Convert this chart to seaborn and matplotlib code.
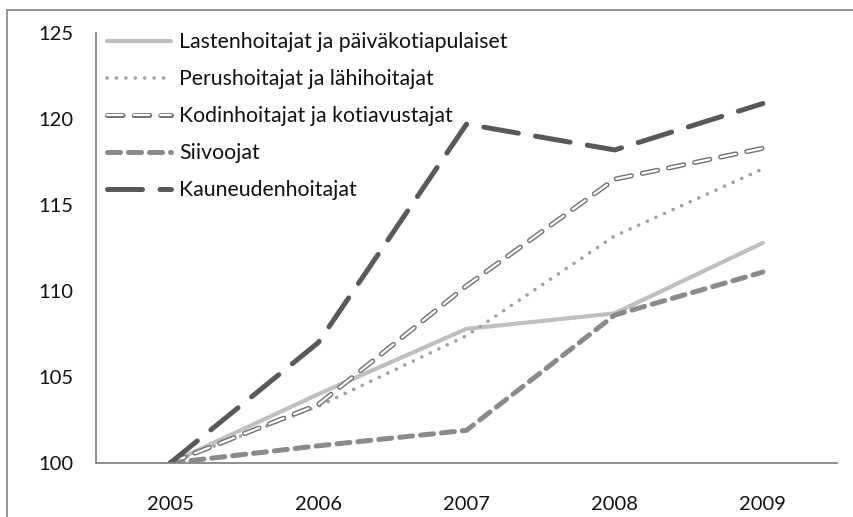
import pandas as pd
import numpy as np
import seaborn as sns
import matplotlib.pyplot as plt
import matplotlib.patheffects as pe
from matplotlib.lines import Line2D

# data
years = ["2005", "2006", "2007", "2008", "2009"]
lastenhoitajat = [100, 104.0, 107.8, 108.7, 112.8]
perushoitajat = [100, 103.3, 107.4, 113.2, 117.1]
kodinhoitajat = [100, 103.4, 110.3, 116.5, 118.3]
siivoojat = [100, 101.0, 101.9, 108.6, 111.1]
kauneudenhoitajat = [100, 107.0, 119.7, 118.2, 120.9]

names = ["Lastenhoitajat ja päiväkotiapulaiset",
         "Perushoitajat ja lähihoitajat",
         "Kodinhoitajat ja kotiavustajat",
         "Siivoojat",
         "Kauneudenhoitajat"]
series = [lastenhoitajat, perushoitajat, kodinhoitajat, siivoojat, kauneudenhoitajat]

sns.set_style("white")
plt.rcParams['font.family'] = ['Lato', 'DejaVu Sans']

fig = plt.figure(figsize=(8.54, 5.17), dpi=100)
ax = fig.add_axes([96/854, 1-463/517, (837-96)/854, (463-33)/517])

# styles for each line
styles = [
    dict(color="#bfbfbf", lw=3.0, ls="-"),
    dict(color="#a0a0a0", lw=2.6, ls=(0, (0.01, 2.6)), dash_capstyle="round"),
    dict(color="white", lw=1.6, ls=(0, (7, 5)), dash_capstyle="round",
         path_effects=[pe.Stroke(linewidth=3.6, foreground="#707070"), pe.Normal()]),
    dict(color="#8a8a8a", lw=3.6, ls=(0, (2.6, 1.6)), dash_capstyle="round"),
    dict(color="#595959", lw=3.6, ls=(0, (7, 3.5)), dash_capstyle="round"),
]

for name, vals, st in zip(names, series, styles):
    df = pd.DataFrame({"year": years, "value": vals})
    sns.lineplot(data=df, x="year", y="value", ax=ax, label=name, **st)

ax.set_xlim(-0.5, 4.5)
ax.set_ylim(100, 125)
ax.set_yticks([100, 105, 110, 115, 120, 125])
ax.set_xlabel("")
ax.set_ylabel("")
ax.tick_params(axis="both", length=0, labelsize=14.5, colors="#111111")
ax.tick_params(axis="y", pad=16)
ax.tick_params(axis="x", pad=24)
for s in ["top", "right"]:
    ax.spines[s].set_visible(False)
for s in ["left", "bottom"]:
    ax.spines[s].set_color("#868686")
    ax.spines[s].set_linewidth(1.3)

leg = ax.legend(loc="upper left", bbox_to_anchor=(3/741, 1.022), borderaxespad=0,
                frameon=False, fontsize=15.3, handlelength=3.0, handletextpad=0.38,
                labelspacing=0.80)
for t in leg.get_texts():
    t.set_color("#111111")

# outer chart border (left and top)
fig.add_artist(Line2D([7/854, 7/854], [0, 1-10/517], transform=fig.transFigure,
                      color="#8c8c8c", lw=1.3))
fig.add_artist(Line2D([7/854, 1], [1-10/517, 1-10/517], transform=fig.transFigure,
                      color="#8c8c8c", lw=1.3))

plt.savefig("out.png", dpi=100)
